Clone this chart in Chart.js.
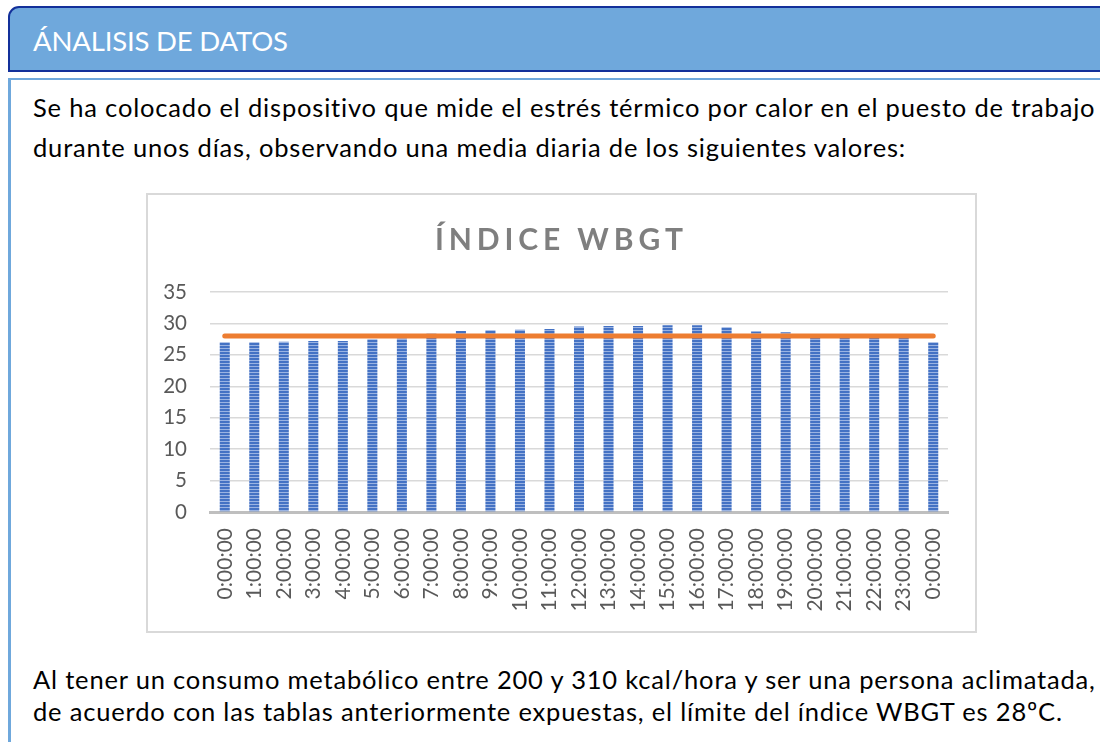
<!DOCTYPE html>
<html>
<head>
<meta charset="utf-8">
<script src="https://cdn.jsdelivr.net/npm/chart.js@4.4.1/dist/chart.umd.min.js"></script>
<style>
  html, body { margin: 0; padding: 0; background: #fff; }
  body { width: 1100px; height: 742px; position: relative; overflow: hidden; font-family: Lato, "Open Sans", sans-serif; }
  .hdr {
    position: absolute; left: 8px; top: 6px; width: 1110px; height: 62px;
    background: #6fa8dc; border: 2px solid #13309a; border-top-left-radius: 11px;
  }
  .box {
    position: absolute; left: 8px; top: 78px; width: 1110px; height: 700px;
    border-top: 2px solid #6fa8dc; border-left: 3px solid #6fa8dc;
  }
  .ln { position: absolute; left: 33px; margin: 0; white-space: nowrap; line-height: normal; color: #000; font-size: 25.5px; }
  .hdr-txt { position: absolute; left: 33px; top: 24px; margin: 0; white-space: nowrap; line-height: normal; color: #fff; font-size: 27.5px; }
  .chart-box {
    position: absolute; left: 146px; top: 193px; width: 827px; height: 436px;
    border: 2px solid #d9d9d9; background: #fff;
  }
  #wrap { position: absolute; left: 146px; top: 193px; width: 831px; height: 440px; }
</style>
</head>
<body>
<div class="hdr"></div>
<span class="hdr-txt" data-w="255">ÁNALISIS DE DATOS</span>
<div class="box"></div>
<span class="ln" style="top:92px" data-w="1062">Se ha colocado el dispositivo que mide el estrés térmico por calor en el puesto de trabajo</span>
<span class="ln" style="top:132px">durante unos días, observando una media diaria de los siguientes valores:</span>
<div class="chart-box"></div>
<div id="wrap"><canvas id="wbgt-chart"></canvas></div>
<span class="ln" style="top:664px">Al tener un consumo metabólico entre 200 y 310 kcal/hora y ser una persona aclimatada,</span>
<span class="ln" style="top:696px">de acuerdo con las tablas anteriormente expuestas, el límite del índice WBGT es 28ºC.</span>

<script>
// hourly labels as printed under the bars
const hours = ['0:00:00', '1:00:00', '2:00:00', '3:00:00', '4:00:00', '5:00:00', '6:00:00', '7:00:00',
  '8:00:00', '9:00:00', '10:00:00', '11:00:00', '12:00:00', '13:00:00', '14:00:00', '15:00:00',
  '16:00:00', '17:00:00', '18:00:00', '19:00:00', '20:00:00', '21:00:00', '22:00:00', '23:00:00', '0:00:00'];

// daily mean WBGT
const wbgt = [27.0, 27.0, 27.1, 27.2, 27.2, 27.5, 27.6, 28.4, 28.8, 28.9, 29.0, 29.1, 29.5,
  29.6, 29.6, 29.7, 29.7, 29.4, 28.7, 28.6, 28.0, 27.9, 27.9, 27.8, 27.0];

// limit value (orange line)
const limite = [28, 28, 28, 28, 28, 28, 28, 28, 28, 28, 28, 28, 28,
  28, 28, 28, 28, 28, 28, 28, 28, 28, 28, 28, 28];

const yTicks = [0, 5, 10, 15, 20, 25, 30, 35];
const chartTitle = 'ÍNDICE WBGT';

// stretch the first body line / header so widths match the page
function fitText(){
  var body = document.querySelector('.ln[data-w]');
  var w = body.getBoundingClientRect().width;
  var ls = (parseFloat(body.dataset.w) - w) / (body.textContent.length - 1);
  document.querySelectorAll('.ln').forEach(function(el){ el.style.letterSpacing = ls + 'px'; });
  var h = document.querySelector('.hdr-txt');
  var hw = h.getBoundingClientRect().width;
  h.style.letterSpacing = ((parseFloat(h.dataset.w) - hw) / (h.textContent.length - 1)) + 'px';
}
fitText();

// striped bar fill, like the office chart
var pc = document.createElement('canvas');
pc.width = 4; pc.height = 3;
var pctx = pc.getContext('2d');
pctx.fillStyle = '#4472c4'; pctx.fillRect(0, 0, 4, 3);
pctx.fillStyle = '#9ab3e2'; pctx.fillRect(0, 2, 4, 1);
var barFill = pctx.createPattern(pc, 'repeat');

const titlePlugin = {
  id: 'spacedTitle',
  afterDraw(chart){
    const ctx = chart.ctx;
    ctx.save();
    ctx.font = 'bold 30px Lato';
    ctx.fillStyle = '#7f7f7f';
    ctx.textBaseline = 'alphabetic';
    ctx.textAlign = 'left';
    const w = ctx.measureText(chartTitle).width;
    ctx.letterSpacing = ((248 - w) / (chartTitle.length - 1)) + 'px';
    ctx.fillText(chartTitle, 289, 57);
    ctx.restore();
  }
};

new Chart(document.getElementById('wbgt-chart'), {
  data: {
    labels: hours,
    datasets: [
      {
        type: 'line',
        label: 'Límite',
        data: limite,
        borderColor: '#ed7d31',
        borderWidth: 5,
        borderCapStyle: 'round',
        pointRadius: 0,
        order: 0
      },
      {
        type: 'bar',
        label: 'WBGT',
        data: wbgt,
        backgroundColor: barFill,
        borderWidth: 0,
        categoryPercentage: 1,
        barPercentage: 0.34,
        order: 1
      }
    ]
  },
  options: {
    responsive: true,
    maintainAspectRatio: false,
    animation: false,
    layout: { padding: { top: 99, right: 29, left: 0, bottom: 0 } },
    plugins: {
      legend: { display: false },
      tooltip: { enabled: false },
      title: { display: false }
    },
    scales: {
      x: {
        grid: { display: false, drawTicks: false },
        border: { display: true, color: '#bfbfbf', width: 3 },
        ticks: {
          autoSkip: false, minRotation: 90, maxRotation: 90, padding: 16,
          color: '#595959', font: { family: 'Lato', size: 21 }
        },
        afterFit: function(s){ s.height = 121; }
      },
      y: {
        min: 0, max: 35,
        afterBuildTicks: function(s){ s.ticks = yTicks.map(function(v){ return { value: v }; }); },
        grid: { color: '#d9d9d9', lineWidth: 1.5, drawTicks: false },
        border: { display: false },
        ticks: { padding: 23, color: '#595959', font: { family: 'Lato', size: 20.5 } },
        afterFit: function(s){ s.width = 64; }
      }
    }
  },
  plugins: [titlePlugin]
});
</script>
</body>
</html>
